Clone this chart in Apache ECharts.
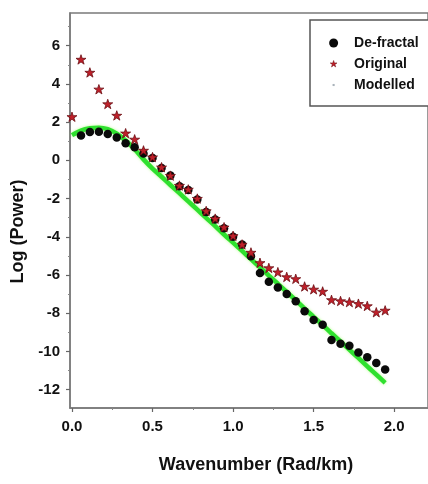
<!DOCTYPE html>
<html>
<head>
<meta charset="utf-8">
<script src="https://cdn.jsdelivr.net/npm/echarts@6/dist/echarts.min.js"></script>
<style>
html,body{margin:0;padding:0;background:#fff;}
#chart{width:428px;height:484px;}
</style>
</head>
<body>
<div id="chart"></div>
<script>
// ---- data ----
const wavenumber = [0.000, 0.056, 0.111, 0.167, 0.222, 0.278, 0.333, 0.389, 0.444, 0.500,
  0.556, 0.611, 0.667, 0.722, 0.778, 0.833, 0.889, 0.944, 1.000, 1.056,
  1.111, 1.167, 1.222, 1.278, 1.333, 1.389, 1.444, 1.500, 1.556, 1.611,
  1.667, 1.722, 1.778, 1.833, 1.889, 1.944];
const defractal = [null, 1.30, 1.48, 1.50, 1.38, 1.20, 0.90, 0.68, 0.36, 0.12,
  -0.40, -0.80, -1.35, -1.55, -2.05, -2.70, -3.10, -3.55, -4.00, -4.40,
  -5.02, -5.90, -6.35, -6.65, -7.00, -7.38, -7.90, -8.35, -8.60, -9.40,
  -9.60, -9.70, -10.05, -10.30, -10.60, -10.95];
const original = [2.28, 5.28, 4.60, 3.72, 2.95, 2.35, 1.42, 1.10, 0.52, 0.17,
  -0.36, -0.80, -1.32, -1.52, -2.00, -2.65, -3.05, -3.50, -3.95, -4.40,
  -4.82, -5.36, -5.63, -5.85, -6.10, -6.20, -6.60, -6.75, -6.86, -7.30,
  -7.36, -7.42, -7.50, -7.62, -7.95, -7.85];
const modelled = [1.32, 1.56, 1.68, 1.71, 1.63, 1.40, 1.04, 0.58, 0.05, -0.43,
  -0.86, -1.29, -1.72, -2.15, -2.58, -3.01, -3.44, -3.88, -4.31, -4.74,
  -5.17, -5.60, -6.03, -6.46, -6.89, -7.32, -7.76, -8.19, -8.62, -9.05,
  -9.48, -9.91, -10.34, -10.78, -11.21, -11.64];
const xTickLabels = [0, 0.5, 1.0, 1.5, 2.0];
const xMinorTicks = [0.25, 0.75, 1.25, 1.75];
const yTickLabels = [-12, -10, -8, -6, -4, -2, 0, 2, 4, 6];
const yMinorTicks = [-11, -9, -7, -5, -3, -1, 1, 3, 5, 7];
const seriesNames = ['De-fractal', 'Original', 'Modelled'];

// ---- build ----
const pairs = (ys) => wavenumber.map((x, i) => [x, ys[i]]).filter(p => p[1] != null);
const STAR = 'path://M50,0L61.8,35.1L98.6,35.1L68.8,56.7L80.1,91.8L50,70L19.9,91.8L31.2,56.7L1.4,35.1L38.2,35.1Z';
const STAR_SMALL = 'path://M-12,-14M112,114M50,0L61.8,35.1L98.6,35.1L68.8,56.7L80.1,91.8L50,70L19.9,91.8L31.2,56.7L1.4,35.1L38.2,35.1Z';
const TINY = 'path://M0,0M12,12M4.6,4.6L7.4,4.6L7.4,7.4L4.6,7.4Z';
const FONT = "'Liberation Sans', Arial, sans-serif";
const AXC = '#7a7a7a';

const chart = echarts.init(document.getElementById('chart'), null, {renderer: 'canvas'});
const xBase = {type: 'value', min: -0.0123, max: 2.21, splitLine: {show: false}};
const yBase = {type: 'value', min: -12.96, max: 7.71, splitLine: {show: false}};
chart.setOption({
  animation: false,
  backgroundColor: '#fff',
  grid: {left: 70, right: -2, top: 13, bottom: 76, show: true, borderColor: AXC, borderWidth: 1.5, backgroundColor: 'transparent'},
  xAxis: [
    Object.assign({}, xBase, {
      position: 'bottom',
      axisLine: {show: true, onZero: false, lineStyle: {color: AXC, width: 1.5}},
      axisTick: {show: true, inside: false, length: 4, customValues: xTickLabels, lineStyle: {color: '#666', width: 1.2}},
      axisLabel: {show: true, customValues: xTickLabels, margin: 11, formatter: v => v.toFixed(1),
        fontFamily: FONT, fontWeight: 'bold', fontSize: 15, color: '#111'},
      name: 'Wavenumber (Rad/km)', nameLocation: 'middle', nameGap: 48,
      nameTextStyle: {fontFamily: FONT, fontWeight: 'bold', fontSize: 18, color: '#111', padding: [0, 0, 0, 14]}
    }),
    Object.assign({}, xBase, {
      position: 'bottom',
      axisLine: {show: false, onZero: false},
      axisTick: {show: true, inside: false, length: 2, customValues: xMinorTicks, lineStyle: {color: '#888', width: 1}},
      axisLabel: {show: false}
    })
  ],
  yAxis: [
    Object.assign({}, yBase, {
      position: 'left',
      axisLine: {show: true, onZero: false, lineStyle: {color: AXC, width: 1.5}},
      axisTick: {show: true, inside: false, length: 4, customValues: yTickLabels, lineStyle: {color: '#666', width: 1.2}},
      axisLabel: {show: true, customValues: yTickLabels, margin: 10,
        fontFamily: FONT, fontWeight: 'bold', fontSize: 15, color: '#111'},
      name: 'Log (Power)', nameLocation: 'middle', nameGap: 38, nameRotate: 90,
      nameTextStyle: {fontFamily: FONT, fontWeight: 'bold', fontSize: 18, color: '#111', padding: [0, 42, 0, 0]}
    }),
    Object.assign({}, yBase, {
      position: 'left',
      axisLine: {show: false, onZero: false},
      axisTick: {show: true, inside: false, length: 2, customValues: yMinorTicks, lineStyle: {color: '#888', width: 1}},
      axisLabel: {show: false}
    })
  ],
  graphic: [{
    type: 'rect', z: 3, shape: {x: 310, y: 20, width: 140, height: 86},
    style: {fill: '#fff', stroke: '#555', lineWidth: 1.5}
  }],
  legend: {
    z: 6, orient: 'vertical', left: 324, top: 31, itemWidth: 9, itemHeight: 9, itemGap: 7,
    textStyle: {fontFamily: FONT, fontWeight: 'bold', fontSize: 14, color: '#111', padding: [0, 0, 0, 11]},
    data: [
      {name: seriesNames[0], icon: 'circle', itemStyle: {color: '#0a0a0a'}},
      {name: seriesNames[1], icon: STAR_SMALL, itemStyle: {color: '#c0202a', borderColor: '#6b0f14', borderWidth: 0.5}},
      {name: seriesNames[2], icon: TINY, itemStyle: {color: '#aab3bb'}}
    ]
  },
  series: [
    {
      name: seriesNames[2], type: 'line', data: pairs(modelled), z: 1,
      showSymbol: false, smooth: 0.3,
      lineStyle: {color: '#2fe02f', width: 4.5, shadowColor: 'rgba(150,255,90,0.7)', shadowBlur: 3},
      itemStyle: {color: '#2fe02f'}
    },
    {
      name: seriesNames[0], type: 'scatter', data: pairs(defractal), z: 2,
      symbol: 'circle', symbolSize: 8.5,
      itemStyle: {color: '#0a0a0a', opacity: 1}
    },
    {
      name: seriesNames[1], type: 'scatter', data: pairs(original), z: 3,
      symbol: STAR, symbolSize: 10, symbolKeepAspect: true,
      itemStyle: {color: '#c0202a', borderColor: '#6b0f14', borderWidth: 0.8, opacity: 1}
    }
  ]
});
</script>
</body>
</html>
